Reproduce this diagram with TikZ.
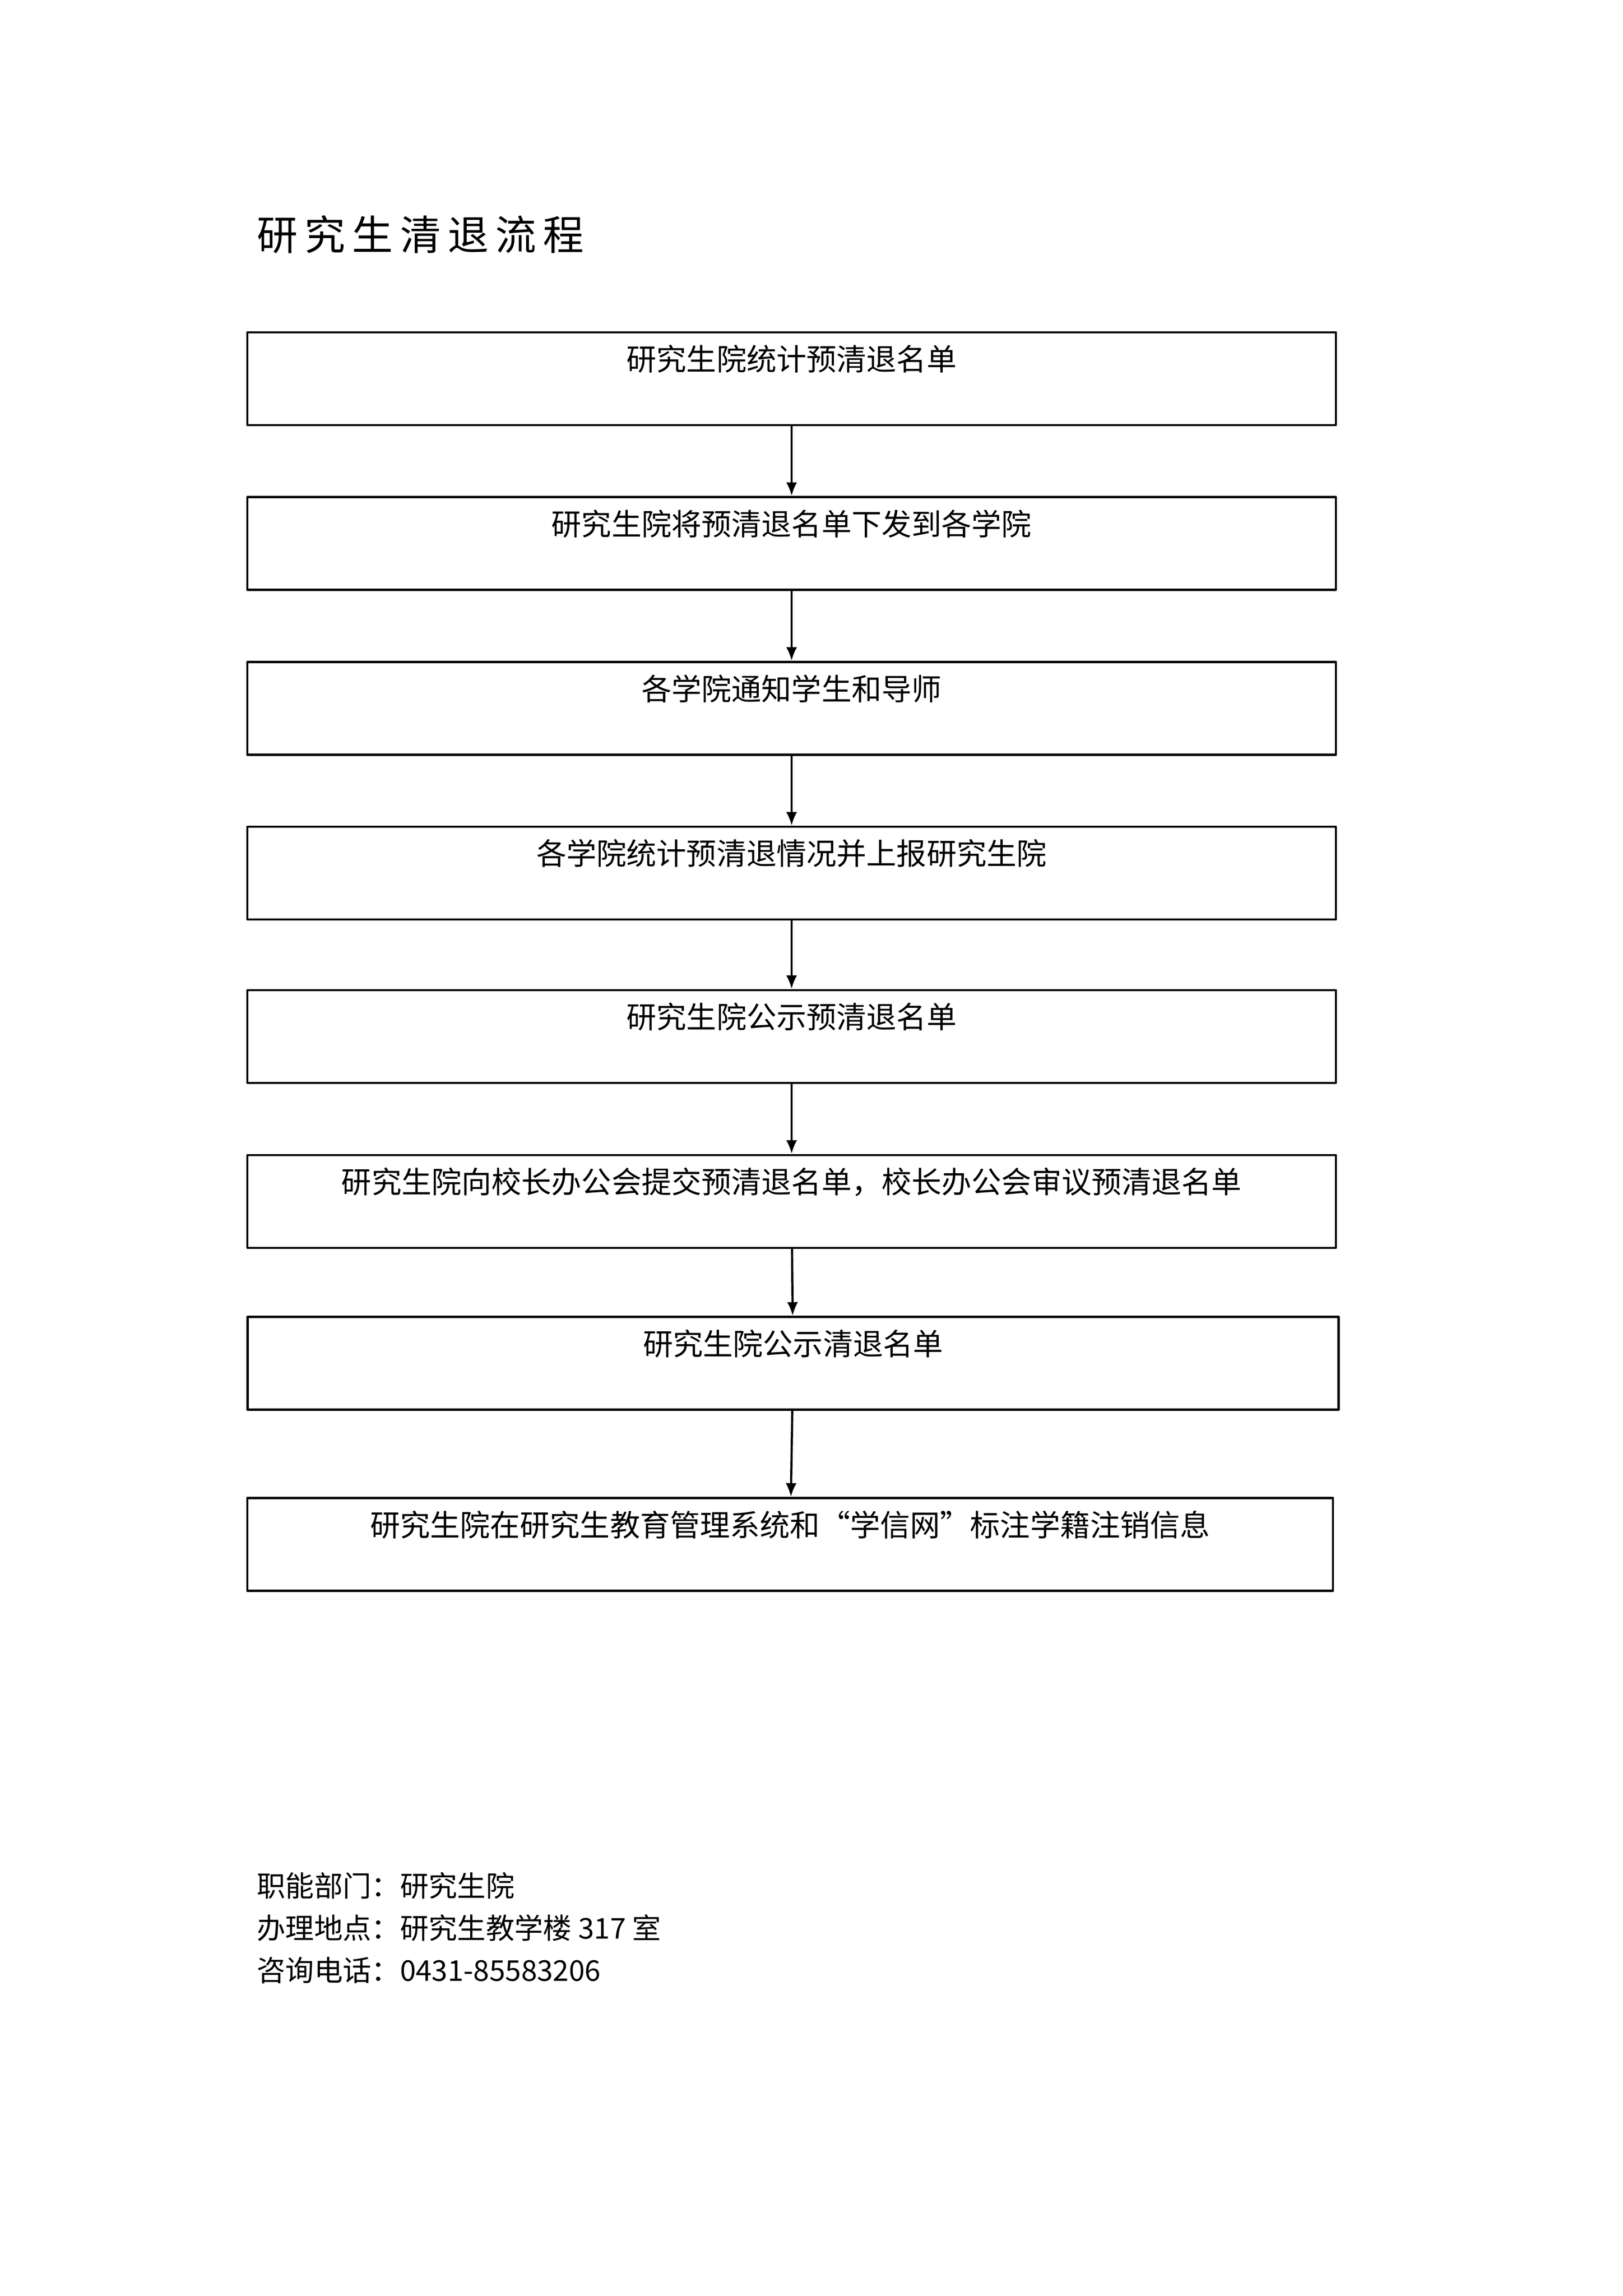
\documentclass[tikz,border=0pt]{standalone}
\usepackage{fontspec}
\setmainfont{Noto Sans CJK SC}
\usetikzlibrary{arrows.meta}
\begin{document}
\begin{tikzpicture}[x=0.5394pt,y=-0.5394pt,line join=round,
	stepbox/.style={draw,thick,anchor=north,minimum width=399pt,inner ysep=5pt,text height=9pt,text depth=15pt,font=\fontsize{11}{13}\selectfont},
	flow/.style={thick,-{Latex[length=5pt,width=4pt]}}]
	\useasboundingbox (0,0) rectangle (1103,1560);
	\node[anchor=base west,font=\fontsize{15}{18}\selectfont] (title) at (168,170) {研\,究\,生\,清\,退\,流\,程};
	\node[stepbox] (s1) at (538,225) {研究生院统计预清退名单};
	\node[stepbox] (s2) at (538,337) {研究生院将预清退名单下发到各学院};
	\node[stepbox] (s3) at (538,449) {各学院通知学生和导师};
	\node[stepbox] (s4) at (538,561) {各学院统计预清退情况并上报研究生院};
	\node[stepbox] (s5) at (538,672) {研究生院公示预清退名单};
	\node[stepbox] (s6) at (538,784) {研究生院向校长办公会提交预清退名单，校长办公会审议预清退名单};
	\node[stepbox,minimum width=400pt] (s7) at (539,894) {研究生院公示清退名单};
	\node[stepbox,minimum width=398pt] (s8) at (537,1017) {研究生院在研究生教育管理系统和“学信网”标注学籍注销信息};
	\foreach \a/\b in {s1/s2,s2/s3,s3/s4,s4/s5,s5/s6,s6/s7,s7/s8}{\draw[flow] (\a) -- (\b);}
	\node[anchor=base west,font=\fontsize{10.5}{13}\selectfont,align=left] (info) at (168,1346) {职能部门：研究生院\\[2.5pt]办理地点：研究生教学楼 317 室\\[2.5pt]咨询电话：0431-85583206};
\end{tikzpicture}
\end{document}
